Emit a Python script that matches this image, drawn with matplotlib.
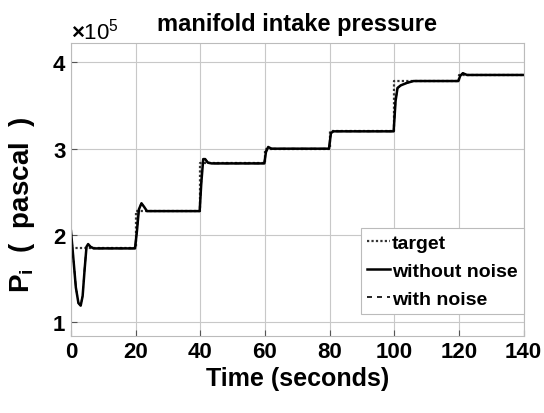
import numpy as np
import matplotlib
matplotlib.use("Agg")
import matplotlib.pyplot as plt
from matplotlib.ticker import ScalarFormatter

plt.rcParams['font.family'] = ['Liberation Sans', 'DejaVu Sans']
plt.rcParams['font.weight'] = 'bold'
plt.rcParams['mathtext.fontset'] = 'custom'
plt.rcParams['mathtext.bf'] = 'Liberation Sans:bold'
plt.rcParams['mathtext.rm'] = 'Liberation Sans'

## target pressure steps (pascal)
target_t = [0, 20, 20, 40, 40, 60, 60, 80, 80, 100, 100, 120, 120, 140]
target_p = [1.85e5, 1.85e5, 2.28e5, 2.28e5, 2.83e5, 2.83e5, 3.0e5, 3.0e5,
            3.2e5, 3.2e5, 3.78e5, 3.78e5, 3.85e5, 3.85e5]

## response without noise
resp_t = [0, 0.7, 1.5, 2.3, 3.0, 3.6, 4.2, 4.8, 5.3, 6.0, 7.0, 8.0,
          19.8, 20.4, 21.0, 21.8, 22.6, 23.5, 24.5,
          39.8, 40.3, 40.9, 41.5, 42.3, 43.5,
          59.8, 60.3, 61.0, 62.0,
          79.8, 80.4, 81.2,
          99.8, 100.4, 101.0, 102.0, 104.0, 106.0,
          119.8, 120.4, 121.2, 122.5, 140]
resp_p = [2.05e5, 1.75e5, 1.4e5, 1.22e5, 1.19e5, 1.3e5, 1.6e5, 1.87e5, 1.9e5, 1.87e5, 1.85e5, 1.85e5,
          1.85e5, 2.05e5, 2.3e5, 2.37e5, 2.33e5, 2.28e5, 2.28e5,
          2.28e5, 2.6e5, 2.88e5, 2.88e5, 2.84e5, 2.83e5,
          2.83e5, 2.96e5, 3.02e5, 3.0e5,
          3.0e5, 3.18e5, 3.2e5,
          3.2e5, 3.55e5, 3.7e5, 3.73e5, 3.76e5, 3.78e5,
          3.78e5, 3.84e5, 3.87e5, 3.85e5, 3.85e5]

## response with noise (almost the same)
noise_t = resp_t
noise_p = [2.05e5, 1.76e5, 1.41e5, 1.22e5, 1.19e5, 1.31e5, 1.61e5, 1.87e5, 1.9e5, 1.87e5, 1.85e5, 1.85e5,
           1.85e5, 2.06e5, 2.31e5, 2.37e5, 2.33e5, 2.28e5, 2.28e5,
           2.28e5, 2.61e5, 2.88e5, 2.88e5, 2.84e5, 2.83e5,
           2.83e5, 2.97e5, 3.02e5, 3.0e5,
           3.0e5, 3.18e5, 3.2e5,
           3.2e5, 3.56e5, 3.7e5, 3.73e5, 3.76e5, 3.78e5,
           3.78e5, 3.84e5, 3.87e5, 3.85e5, 3.85e5]

fig = plt.figure(figsize=(5.44, 4.14), dpi=100)
ax = fig.add_axes([0.1305, 0.186, 0.832, 0.708])

ax.plot(target_t, target_p, color='#333333', linestyle=(0, (1, 1)), lw=1.6, label='target')
ax.plot(resp_t, resp_p, color='black', lw=1.8, label='without noise')
ax.plot(noise_t, noise_p, color='black', linestyle=(0, (3, 3)), lw=1.2, label='with noise')

ax.set_xlim(0, 140)
ax.set_ylim(0.84e5, 4.22e5)
ax.set_xticks(range(0, 141, 20))
ax.set_yticks([1e5, 2e5, 3e5, 4e5])
fmt = ScalarFormatter(useMathText=True)
fmt.set_powerlimits((5, 5))
ax.yaxis.set_major_formatter(fmt)
ax.yaxis.get_offset_text().set_fontsize(16)
ax.yaxis.get_offset_text().set_fontweight('normal')

ax.grid(True, color='#c8c8c8', lw=0.8)
ax.tick_params(direction='in', labelsize=16, length=4, color='#555555')
for s in ax.spines.values():
    s.set_color('#bbbbbb')
    s.set_linewidth(0.8)

ax.set_title('manifold intake pressure', fontsize=17, fontweight='bold', pad=9)
ax.set_xlabel('Time (seconds)', fontsize=18, fontweight='bold', labelpad=3)
ax.set_ylabel(r'$\mathbf{P_i}$  (  pascal  )', fontsize=20, fontweight='bold')
ax.yaxis.set_label_coords(-0.075, 0.45)

leg = ax.legend(loc='lower right', bbox_to_anchor=(1.0, 0.075), fontsize=14, handlelength=1.2,
                handletextpad=0.1, borderpad=0.3, labelspacing=0.55, fancybox=False,
                edgecolor='#bbbbbb', framealpha=1, borderaxespad=0)
leg.get_frame().set_linewidth(0.8)

plt.savefig('out.png', dpi=100)
